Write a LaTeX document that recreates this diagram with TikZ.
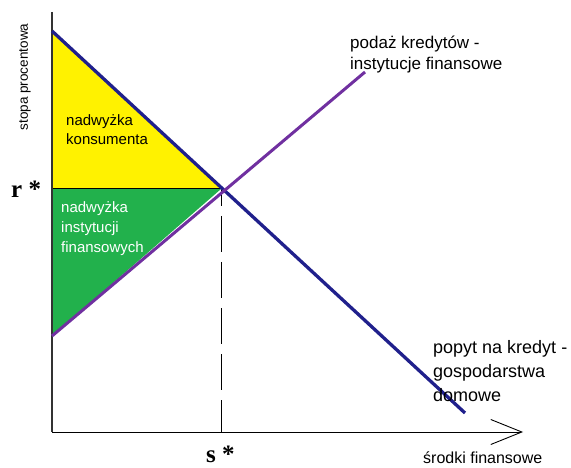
\documentclass[tikz,border=0pt]{standalone}
\usepackage{fontspec}
\setmainfont{Liberation Sans}
\newfontfamily\timesfont{Liberation Serif}
\usetikzlibrary{arrows.meta}
\definecolor{popytblue}{RGB}{32,32,140}
\definecolor{podazlila}{RGB}{112,48,160}
\definecolor{zolty}{RGB}{255,242,0}
\definecolor{zielony}{RGB}{34,177,76}

\begin{document}
\begin{tikzpicture}[x=1pt,y=-1pt,
	etykieta/.style={inner sep=0pt, align=left, anchor=north west},
	gwiazdka/.style={inner sep=0pt, anchor=base west, font=\timesfont\bfseries\fontsize{25}{25}\selectfont}]
			\useasboundingbox (0,0) rectangle (571,468);
			
			% Punkty
			\coordinate (O) at (52,432);
			\coordinate (ytop) at (52,12);
			\coordinate (xend) at (523,432);
			\coordinate (E) at (221,189);
			\coordinate (Ey) at (52,189);
			\coordinate (Ex) at (221,432);
			\coordinate (D1) at (52,31);
			\coordinate (D2) at (465,413);
			\coordinate (S1) at (52,336);
			\coordinate (S2) at (365,72);
			
			% Nadwyzki
			\fill[zolty] (D1) -- (E) -- (Ey) -- cycle;     %konsument
			\fill[zielony] (Ey) -- (E) -- (S1) -- cycle;   %instytucje
			\draw[line width=1pt] (Ey) -- (E);
			
			% Osie
			\draw[line width=1.2pt, black!80] (ytop) -- (O);
			\draw[line width=0.9pt, -{Straight Barb[length=31pt,width=25pt]}] (O) -- (xend);
			\draw[line width=1pt, dash pattern=on 36pt off 10pt, dash phase=19pt] (E) -- (Ex);
			
			% Popyt i podaz
			\draw[popytblue, line width=3.3pt] (D1) -- (D2);
			\draw[podazlila, line width=3pt] (S1) -- (S2);
			
			% Beschriftungen
			\node[etykieta, font=\fontsize{15}{19}\selectfont] (konsument) at (66,114) {nadwyżka\\konsumenta};
			\node[etykieta, text=white, font=\fontsize{15}{20}\selectfont] (instytucje) at (61,201) {nadwyżka\\instytucji\\finansowych};
			\node[etykieta, font=\fontsize{17}{20.5}\selectfont] (podaz) at (350,36) {podaż kredytów -\\instytucje finansowe};
			\node[etykieta, font=\fontsize{18}{24}\selectfont] (popyt) at (433,340) {popyt na kredyt -\\gospodarstwa\\domowe};
			\node[inner sep=0pt, anchor=base west, font=\fontsize{16}{16}\selectfont] (srodki) at (423,463) {środki finansowe};
			\node[inner sep=0pt, rotate=90, font=\fontsize{13.5}{13.5}\selectfont] (stopa) at (25,77) {stopa procentowa};
			\node[gwiazdka] (rstar) at (11,198) {r *};
			\node[gwiazdka] (sstar) at (206,462) {s *};
			
		\end{tikzpicture}
\end{document}
